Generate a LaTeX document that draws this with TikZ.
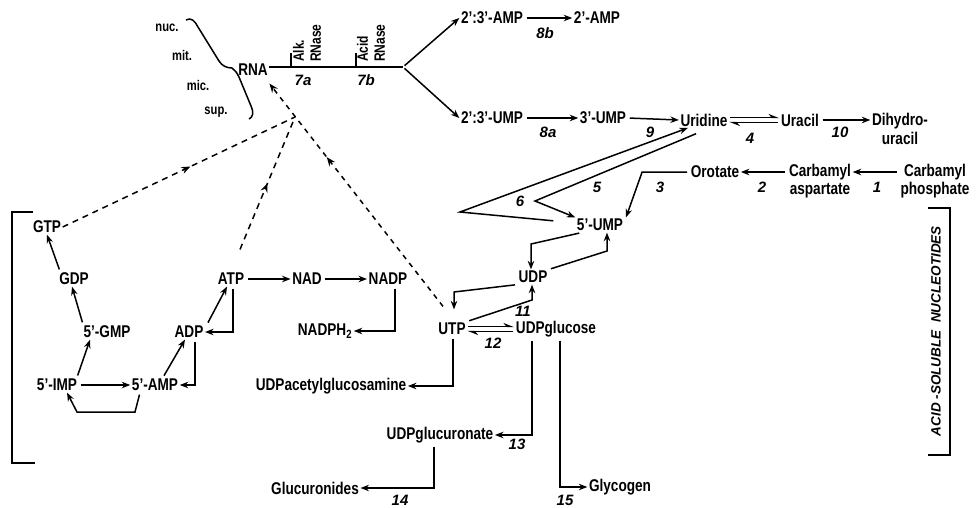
\documentclass[tikz,border=0pt]{standalone}
\usepackage{fontspec}
\setmainfont{Liberation Sans}[FakeStretch=0.8]
\newfontfamily\lblfont{Liberation Sans}
\usetikzlibrary{arrows.meta,decorations.markings}
\begin{document}
\begin{tikzpicture}[x=1pt,y=-1pt,
  every node/.style={inner sep=1.5pt,font=\fontsize{17}{18.5}\selectfont\bfseries},
  sm/.style={font=\fontsize{14}{15}\selectfont\bfseries},
  enz/.style={rotate=90,align=left,font=\fontsize{15}{17}\selectfont\bfseries},
  lbl/.style={font=\lblfont\fontsize{15}{17}\selectfont\bfseries\itshape},
  ln/.style={line width=1.5pt},
  arr/.style={line width=1.5pt,shorten <=2pt,-{Stealth[length=8.5pt,width=6.5pt]}},
  harp/.style={line width=1.4pt,shorten <=1pt,-{Stealth[harpoon,length=9pt,width=7pt]}},
  dsh/.style={line width=1.5pt,dash pattern=on 6pt off 5pt},
  midarr/.style={postaction={decorate},decoration={markings,mark=at position #1 with {\arrow{Stealth[length=9pt,width=7pt]}}}},
  brk/.style={line width=2.8pt}]
\useasboundingbox (0,0) rectangle (978,507);
\fill[white] (0,0) rectangle (978,507);
% --- top left: RNA fractions
\node[sm] (nuc) at (167,28) {nuc.};
\node[sm] (mit) at (182,55) {mit.};
\node[sm] (mic) at (198,85) {mic.};
\node[sm] (sup) at (216,112) {sup.};
\draw[ln] (186,20) .. controls (191,17) and (195,21) .. (198,27) -- (219,61) .. controls (222,66) and (227,68) .. (232,68)
  .. controls (235,70) and (237,73) .. (239,77) -- (251,106) .. controls (254,113) and (253,117) .. (249,119);
\node (RNA) at (253,70) {RNA};
\coordinate (br) at (403,67);
\node[enz] (alk) at (307,43) {Alk.\\RNase};
\node[enz] (acid) at (371,43) {Acid\\RNase};
\node[lbl] (l7a) at (303,80) {7a};
\node[lbl] (l7b) at (366,80) {7b};
\draw[ln] (RNA.east |- br) -- (br);
\draw[ln] (291,53) -- (291,67);
\draw[ln] (356,53) -- (356,67);
% --- top right
\node (AMPc) at (492,18) {2':3'-AMP};
\node (AMPt) at (597,18) {2'-AMP};
\node[lbl] (l8b) at (545,33) {8b};
\node (UMPc) at (492,118) {2':3'-UMP};
\node (UMPt) at (603,118) {3'-UMP};
\node[lbl] (l8a) at (548,132) {8a};
\node (Urd) at (704,120) {Uridine};
\node[lbl] (l9) at (650,132) {9};
\node (Ura) at (800,120) {Uracil};
\node[lbl] (l4) at (750,138) {4};
\node[align=center] (DHU) at (900,129) {Dihydro-\\uracil};
\node[lbl] (l10) at (840,132) {10};
\node (Oro) at (715,172) {Orotate};
\node[align=center] (CAsp) at (820,181) {Carbamyl\\aspartate};
\node[align=center] (CP) at (935,181) {Carbamyl\\phosphate};
\node[lbl] (l2) at (762,187) {2};
\node[lbl] (l1) at (877,187) {1};
\draw[arr] (br) -- (AMPc.west);
\draw[arr] (br) -- (UMPc.west);
\draw[arr] (AMPc.east) -- (AMPt.west);
\draw[arr] (UMPc.east) -- (UMPt.west);
\draw[arr] (UMPt.east) -- (Urd.west);
\draw[harp] ([yshift=2.5pt]Urd.east) -- ([yshift=2.5pt]Ura.west);
\draw[harp] ([yshift=-2.5pt]Ura.west) -- ([yshift=-2.5pt]Urd.east);
\draw[arr] (Ura.east) -- (Ura.east -| DHU.west);
\draw[arr] (CP.west |- Oro.east) -- (CAsp.east |- Oro.east);
\draw[arr] (CAsp.west |- Oro.east) -- (Oro.east);
% --- pyrimidine middle
\node (UMP5) at (600,225) {5'-UMP};
\node[lbl] (l3) at (660,187) {3};
\node[lbl] (l5) at (597,187) {5};
\node[lbl] (l6) at (520,201) {6};
\node (UDP) at (533,277) {UDP};
\node (UTP) at (452,329) {UTP};
\node (UDPG) at (556,329) {UDPglucose};
\node[lbl] (l11) at (523,311) {11};
\node[lbl] (l12) at (493,343) {12};
\node (UDPAG) at (331,386) {UDPacetylglucosamine};
\node (UDPGA) at (440,435) {UDPglucuronate};
\node[lbl] (l13) at (517,444) {13};
\node (Gcr) at (315,488) {Glucuronides};
\node[lbl] (l14) at (400,500) {14};
\node (Glyc) at (620,487) {Glycogen};
\node[lbl] (l15) at (565,500) {15};
\draw[arr] (Oro.west) -- ++(-47,0) -- ([xshift=26pt]UMP5.north);
\draw[arr] ([xshift=-20pt,yshift=4pt]UMP5.west) -- (460,212) -- ([xshift=9pt]Urd.south west);
\draw[arr] ([xshift=19pt,yshift=-5pt]Urd.south west) -- (535,201) -- (UMP5.north west);
\draw[arr] ([xshift=6pt]UMP5.south west) -- (531,244) -- ([xshift=-2pt]UDP.north);
\draw[arr] (UDP.north east) -- (607,251) -- ([xshift=7pt]UMP5.south);
\draw[arr] (UDP.south west) -- (454,292) -- ([xshift=2pt,yshift=12pt]UTP.north);
\draw[arr] (UTP.north east) -- (532,300) -- ([xshift=-1pt]UDP.south);
\draw[harp] ([yshift=2.5pt]UTP.east) -- ([yshift=2.5pt]UDPG.west);
\draw[harp] ([yshift=-2.5pt]UDPG.west) -- ([yshift=-2.5pt]UTP.east);
\draw[arr] ([xshift=1pt]UTP.south) |- (UDPAG.east);
\draw[arr] ([xshift=-24pt]UDPG.south) |- (UDPGA.east);
\draw[arr] ([xshift=4pt]UDPG.south) |- (Glyc.west);
\draw[arr] ([xshift=-6pt]UDPGA.south) |- (Gcr.east);
% --- purine cluster
\node (GTP) at (47,227) {GTP};
\node (GDP) at (74,279) {GDP};
\node (GMP) at (107,332) {5'-GMP};
\node (IMP) at (57,385) {5'-IMP};
\node (AMP) at (155,385) {5'-AMP};
\node (ADP) at (189,332) {ADP};
\node (ATP) at (231,279) {ATP};
\node (NAD) at (307,279) {NAD};
\node (NADP) at (388,279) {NADP};
\node (NADPH) at (325,331) {NADPH\textsubscript{2}};
\draw[arr] ([xshift=-14pt]GDP.north) -- (GTP.south);
\draw[arr] ([xshift=-24pt]GMP.north) -- ([xshift=-2pt]GDP.south);
\draw[arr] ([xshift=20pt]IMP.north) -- ([xshift=-17pt]GMP.south);
\draw[arr] (IMP.east) -- (AMP.west);
\draw[arr] ([xshift=-15pt]AMP.south) -- (135,412) -- (77,412) -- ([xshift=10pt]IMP.south);
\draw[arr] ([xshift=8pt]AMP.north) -- ([xshift=-4pt]ADP.south);
\draw[arr] ([xshift=6pt]ADP.south) |- (AMP.east);
\draw[arr] ([xshift=18pt]ADP.north) -- ([xshift=-4pt]ATP.south);
\draw[arr] ([xshift=2pt]ATP.south) |- (ADP.east);
\draw[arr] (ATP.east) -- (NAD.west);
\draw[arr] (NAD.east) -- (NADP.west);
\draw[arr] ([xshift=7pt]NADP.south) |- (NADPH.east);
% --- dashed incorporation into RNA
\coordinate (cv) at (295,117);
\draw[dsh,midarr=0.55] (GTP.east) -- (cv);
\draw[dsh,midarr=0.5] ([xshift=9pt,yshift=22pt]ATP.north) -- (cv);
\draw[dsh,dash pattern=on 5pt off 5pt,midarr=0.67,-{Stealth[length=9pt,width=7pt]}] ([xshift=-9pt,yshift=15pt]UTP.north) -- ([yshift=-6pt]RNA.south east);
% --- brackets
\draw[brk] (33,212) -- (12,212) -- (12,463) -- (35,463);
\draw[brk] (928,208) -- (950,208) -- (950,455) -- (928,455);
\node[rotate=90,font=\lblfont\fontsize{13.5}{16}\selectfont\bfseries\itshape] (acs) at (936,331) {ACID -SOLUBLE\ \ NUCLEOTIDES};
\end{tikzpicture}
\end{document}
